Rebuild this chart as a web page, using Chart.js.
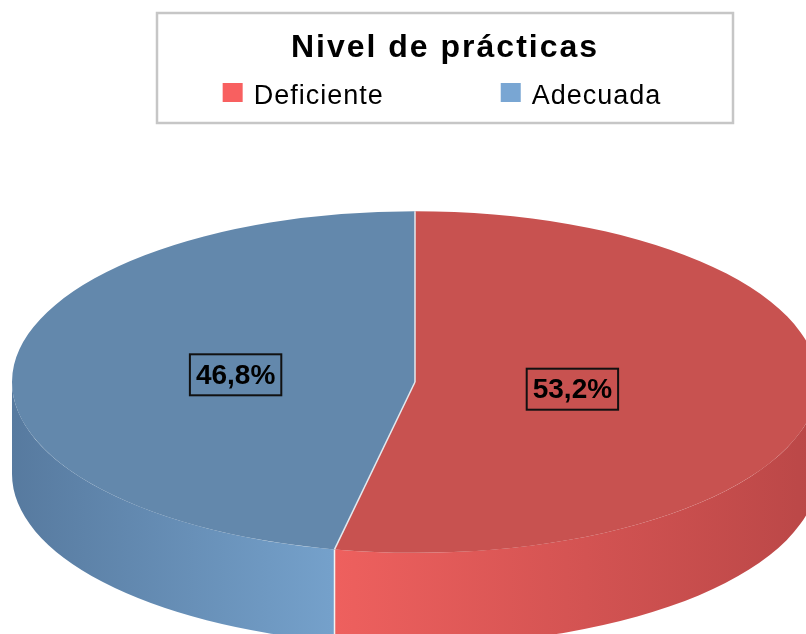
<!DOCTYPE html>
<html>
<head>
<meta charset="utf-8">
<script src="https://cdn.jsdelivr.net/npm/chart.js@4.4.1/dist/chart.umd.min.js"></script>
<style>
    html, body { margin: 0; padding: 0; background: #fff; }
    #wrap { width: 806px; height: 634px; overflow: hidden; }
</style>
</head>
<body>
<div id="wrap"><canvas id="pie-chart" width="806" height="634"></canvas></div>
<script>
const legendTitle = "Nivel de prácticas";
const labels = ["Deficiente", "Adecuada"];
const values = [53.2, 46.8];

// colours (legend swatch, top face, side light/dark)
const legendColors = ["#F86060", "#79A6D3"];
const topColors = ["#C85250", "#6388AC"];
const sideLight = ["#EE605E", "#75A1CB"];
const sideDark = ["#BA4747", "#577A9F"];

const TILT = 0.424;   // vertical squash of the pie
const DEPTH = 92;     // thickness of the pie wall
const FONT = "'Liberation Sans', Arial, sans-serif";

function fmt(v) {
    return v.toFixed(1).replace(".", ",") + "%";
}

const pie3d = {
    id: "pie3d",
    beforeDatasetsDraw(chart) {
        const ctx = chart.ctx;
        const arcs = chart.getDatasetMeta(0).data;
        const cx = arcs[0].x, cy = arcs[0].y, r = arcs[0].outerRadius;
        const ry = r * TILT;

        // side wall, only the front half is visible
        arcs.forEach((arc, i) => {
            const s = Math.max(arc.startAngle, 0);
            const e = Math.min(arc.endAngle, Math.PI);
            if (e <= s) return;
            const lightA = s > 0 ? s : e;
            const darkA = lightA === s ? e : s;
            const g = ctx.createLinearGradient(cx + r * Math.cos(lightA), 0, cx + r * Math.cos(darkA), 0);
            g.addColorStop(0, sideLight[i]);
            g.addColorStop(1, sideDark[i]);
            ctx.beginPath();
            ctx.ellipse(cx, cy, r, ry, 0, s, e, false);
            ctx.ellipse(cx, cy + DEPTH, r, ry, 0, e, s, true);
            ctx.closePath();
            ctx.fillStyle = g;
            ctx.fill();
        });

        // separators on the wall
        ctx.strokeStyle = "#f2f2f2";
        ctx.lineWidth = 1.5;
        arcs.forEach(arc => {
            const a = arc.startAngle;
            if (a > 0 && a < Math.PI) {
                const x = cx + r * Math.cos(a), y = cy + ry * Math.sin(a);
                ctx.beginPath();
                ctx.moveTo(x, y);
                ctx.lineTo(x, y + DEPTH);
                ctx.stroke();
            }
        });

        // squash the top face drawn by the library
        ctx.save();
        ctx.translate(cx, cy);
        ctx.scale(1, TILT);
        ctx.translate(-cx, -cy);
    },
    afterDatasetsDraw(chart) {
        const ctx = chart.ctx;
        ctx.restore();
        const arcs = chart.getDatasetMeta(0).data;
        const cx = arcs[0].x, cy = arcs[0].y, r = arcs[0].outerRadius;
        const ry = r * TILT;

        ctx.strokeStyle = "#e4e9ee";
        ctx.lineWidth = 1.5;
        arcs.forEach(arc => {
            const a = arc.startAngle;
            ctx.beginPath();
            ctx.moveTo(cx, cy);
            ctx.lineTo(cx + r * Math.cos(a), cy + ry * Math.sin(a));
            ctx.stroke();
        });

        // value labels in boxes
        ctx.font = "bold 28px " + FONT;
        ctx.textAlign = "center";
        ctx.textBaseline = "middle";
        arcs.forEach((arc, i) => {
            const mid = (arc.startAngle + arc.endAngle) / 2;
            const x = cx + 0.42 * r * Math.cos(mid) - 11;
            const y = cy + 0.42 * ry * Math.sin(mid);
            const text = fmt(chart.data.datasets[0].data[i]);
            const w = ctx.measureText(text).width + 12;
            const h = 41;
            ctx.lineWidth = 2;
            ctx.strokeStyle = "#111";
            ctx.strokeRect(x - w / 2, y - h / 2, w, h);
            ctx.fillStyle = "#000";
            ctx.fillText(text, x, y + 1);
        });
    },
    afterDraw(chart) {
        const ctx = chart.ctx;
        const box = { left: 157, top: 13, width: 576, height: 110 };
        const mx = box.left + box.width / 2;
        ctx.save();
        ctx.fillStyle = "#fff";
        ctx.fillRect(box.left, box.top, box.width, box.height);
        ctx.strokeStyle = "#c6c6c6";
        ctx.lineWidth = 2.5;
        ctx.strokeRect(box.left, box.top, box.width, box.height);

        ctx.fillStyle = "#000";
        ctx.textAlign = "center";
        ctx.textBaseline = "alphabetic";
        ctx.font = "bold 32px " + FONT;
        ctx.letterSpacing = "2px";
        ctx.fillText(legendTitle, mx, 57);

        ctx.font = "27px " + FONT;
        ctx.letterSpacing = "1px";
        ctx.textAlign = "left";
        const sw = 20, gapText = 11, gapItem = 117;
        const widths = chart.data.labels.map(t => sw + gapText + ctx.measureText(t).width);
        const total = widths.reduce((a, b) => a + b, 0) + gapItem * (widths.length - 1);
        let x = mx - total / 2 - 3;
        chart.data.labels.forEach((t, i) => {
            ctx.fillStyle = legendColors[i];
            ctx.fillRect(x, 83, sw, 19);
            ctx.fillStyle = "#000";
            ctx.fillText(t, x + sw + gapText, 104);
            x += widths[i] + gapItem;
        });
        ctx.restore();
    }
};

new Chart(document.getElementById("pie-chart"), {
    type: "pie",
    data: {
        labels: labels,
        datasets: [{
            data: values,
            backgroundColor: topColors,
            borderWidth: 0
        }]
    },
    options: {
        responsive: false,
        animation: false,
        radius: 403,
        rotation: 0,
        layout: { padding: { left: 24, right: 0, top: 130, bottom: 0 } },
        plugins: {
            legend: { display: false },
            tooltip: { enabled: false }
        }
    },
    plugins: [pie3d]
});
</script>
</body>
</html>
